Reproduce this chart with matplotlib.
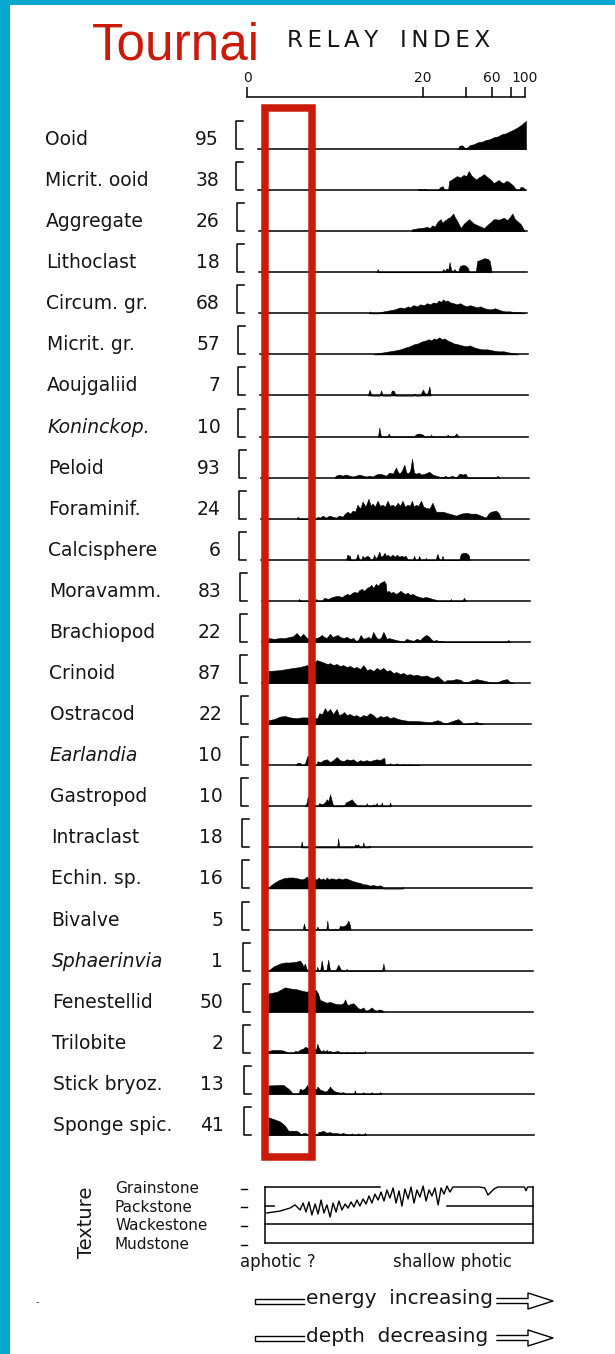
import numpy as np
import matplotlib
matplotlib.use("Agg")
import matplotlib.pyplot as plt
from matplotlib.transforms import Affine2D
from matplotlib.lines import Line2D
from matplotlib.patches import Rectangle

# ---------------- data ----------------
CATEGORIES = ["Ooid", "Micrit. ooid", "Aggregate", "Lithoclast", "Circum. gr.", "Micrit. gr.",
              "Aoujgaliid", "Koninckop.", "Peloid", "Foraminif.", "Calcisphere", "Moravamm.",
              "Brachiopod", "Crinoid", "Ostracod", "Earlandia", "Gastropod", "Intraclast",
              "Echin. sp.", "Bivalve", "Sphaerinvia", "Fenestellid", "Trilobite", "Stick bryoz.",
              "Sponge spic."]
COUNTS = [95, 38, 26, 18, 68, 57, 7, 10, 93, 24, 6, 83, 22, 87, 22, 10, 10, 18, 16, 5, 1, 50, 2, 13, 41]
ITALIC = ["Koninckop.", "Earlandia", "Sphaerinvia"]

RELAY_TICKS = [0, 20, 40, 60, 80, 100]
RELAY_LABELS = ["0", "20", "", "60", "", "100"]

# profiles: (position along sample sequence 0-100, abundance % of bracket)
OOID = [(74.5, 0), (75.2, 12), (76.2, 13), (77.2, 3), (78.2, 6), (79.0, 14), (80.5, 17), (82.0, 24),
        (83.5, 26), (85.0, 32), (86.5, 35), (88.0, 42), (89.5, 45), (91.0, 53), (92.5, 56), (94.0, 63),
        (95.5, 70), (97.0, 78), (98.5, 88), (99.5, 97), (100.0, 100), (100.0, 0)]
MICRIT_OOID = [(59.5, 0), (60.2, 5), (61.0, 2), (61.8, 5), (62.5, 3), (63.2, 0), (67.0, 0), (67.8, 10),
               (68.8, 14), (69.4, 0), (70.8, 0), (71.2, 32), (72.5, 40), (74.1, 50), (75.3, 45), (76.6, 54),
               (77.6, 50), (78.5, 68), (79.5, 52), (80.3, 45), (81.3, 38), (82.2, 45), (83.2, 50), (84.1, 57),
               (85.0, 50), (85.9, 43), (86.9, 35), (87.8, 25), (88.7, 30), (89.7, 36), (90.6, 28), (91.5, 25),
               (92.5, 33), (93.4, 30), (94.4, 22), (95.3, 14), (96.3, 0), (97.3, 0), (97.8, 11), (98.8, 10),
               (99.6, 0)]
AGGREGATE = [(57.0, 0), (57.3, 7), (59.2, 10), (61.1, 12), (62.9, 15), (63.8, 11), (64.8, 21), (65.7, 16),
             (66.7, 33), (67.9, 43), (68.5, 30), (69.2, 36), (70.4, 45), (71.6, 51), (72.6, 63), (73.3, 48),
             (74.1, 36), (75.4, 11), (76.6, 27), (78.5, 43), (80.3, 27), (82.2, 19), (84.1, 11), (85.9, 27),
             (87.8, 43), (89.7, 41), (91.5, 48), (92.8, 39), (94.7, 63), (95.5, 45), (96.5, 36), (97.8, 25),
             (99.0, 4), (99.3, 0)]
LITHOCLAST = [(43.8, 0), (44.3, 11), (44.8, 0), (68.2, 0), (68.7, 11), (69.3, 4), (70.0, 14), (70.6, 8),
              (71.1, 36), (71.7, 8), (72.3, 4), (72.9, 11), (73.5, 4), (74.2, 0), (75.0, 22), (75.8, 25),
              (76.8, 25), (77.8, 18), (78.5, 0), (80.9, 0), (81.4, 40), (82.5, 44), (84.0, 50), (85.3, 48),
              (86.1, 40), (86.8, 0)]
CIRCUM_GR = [(40.9, 0), (41.3, 7), (41.7, 0), (44.0, 0), (45.0, 4), (46.5, 7), (48.8, 11), (50.5, 14),
             (52.5, 21), (54.0, 18), (55.5, 25), (56.2, 21), (57.5, 29), (59.0, 25), (60.0, 32), (61.5, 29),
             (62.5, 36), (63.7, 32), (65.0, 39), (66.0, 36), (67.0, 46), (67.8, 40), (68.6, 50), (69.3, 43),
             (70.2, 46), (71.2, 39), (72.5, 36), (73.7, 32), (74.9, 36), (76.2, 29), (77.4, 25), (78.6, 29),
             (80.0, 25), (81.2, 21), (82.4, 25), (84.0, 18), (86.1, 14), (88.0, 18), (89.8, 11), (91.5, 7),
             (93.5, 7), (95.5, 4), (97.3, 4), (99.1, 0)]
MICRIT_GR = [(42.5, 0), (44.0, 4), (46.0, 7), (48.5, 11), (50.5, 14), (52.5, 18), (54.5, 25), (56.0, 29),
             (57.5, 36), (59.0, 39), (60.5, 46), (62.0, 50), (63.0, 54), (64.0, 50), (65.0, 57), (66.0, 54),
             (67.0, 61), (68.0, 54), (69.0, 57), (70.0, 50), (71.0, 46), (72.5, 39), (74.0, 36), (75.5, 32),
             (77.0, 29), (78.5, 32), (80.0, 25), (81.5, 21), (83.0, 18), (85.0, 18), (87.0, 14), (89.0, 11),
             (91.0, 11), (93.0, 7), (95.0, 4), (96.5, 0)]
AOUJGALIID = [(40.2, 0), (40.9, 20), (41.6, 0), (44.6, 0), (45.2, 18), (45.8, 0), (48.6, 0), (49.2, 18),
              (50.0, 16), (50.6, 0), (57.1, 0), (57.6, 7), (58.1, 0), (59.8, 0), (60.4, 14), (60.8, 21),
              (61.4, 10), (62.2, 4), (62.7, 14), (63.2, 32), (63.7, 0)]
KONINCKOP = [(43.9, 0), (44.4, 32), (45.0, 0), (47.4, 0), (47.9, 11), (48.4, 0), (57.3, 0), (58.1, 8),
             (59.2, 11), (60.6, 7), (61.3, 0), (63.3, 0), (63.7, 7), (64.1, 0), (69.4, 0), (69.9, 7),
             (70.4, 0), (72.2, 0), (73.1, 11), (74.0, 0)]
PELOID = [(27.5, 0), (28.1, 7), (29.3, 11), (30.6, 7), (31.8, 11), (33.1, 7), (34.3, 4), (35.6, 7),
          (36.8, 11), (38.1, 7), (39.5, 4), (40.5, 7), (41.8, 4), (43.1, 11), (44.4, 14), (45.6, 11),
          (46.8, 7), (48.0, 18), (49.3, 14), (50.5, 36), (51.2, 20), (51.8, 14), (52.7, 25), (53.6, 46),
          (54.3, 20), (54.9, 14), (55.8, 25), (56.5, 68), (57.2, 18), (58.0, 14), (59.0, 18), (59.9, 11),
          (61.3, 14), (62.9, 21), (64.1, 11), (65.4, 7), (66.6, 4), (67.9, 0), (68.9, 7), (69.8, 0),
          (71.4, 7), (72.9, 0), (74.2, 14), (75.4, 11), (76.5, 14), (77.2, 0), (87.9, 0), (88.4, 7),
          (89.0, 0)]
FORAMINIF = [(13.2, 0), (13.7, 7), (14.2, 0), (20.6, 0), (21.1, 7), (22.0, 4), (23.0, 11), (24.2, 4),
             (25.5, 11), (26.8, 7), (28.0, 4), (29.2, 11), (30.4, 7), (31.3, 18), (32.3, 25), (33.3, 18),
             (34.2, 29), (35.1, 25), (36.0, 50), (37.0, 36), (37.9, 61), (39.0, 43), (40.1, 71), (40.9, 46),
             (41.6, 54), (42.5, 43), (43.5, 64), (44.4, 46), (45.4, 50), (46.3, 43), (47.2, 64), (48.1, 46),
             (49.1, 50), (50.0, 43), (51.0, 57), (51.9, 46), (52.8, 64), (53.7, 43), (54.7, 50), (55.5, 46),
             (56.3, 64), (57.0, 43), (57.8, 50), (58.7, 46), (59.7, 64), (60.6, 43), (61.6, 39), (62.8, 36),
             (64.0, 57), (65.3, 25), (67.8, 25), (70.3, 18), (72.8, 11), (74.6, 18), (76.5, 21), (78.4, 18),
             (80.2, 18), (82.0, 11), (83.9, 4), (84.9, 18), (85.8, 25), (86.8, 27), (87.7, 29), (88.7, 20),
             (89.6, 0)]
CALCISPHERE = [(31.6, 0), (32.1, 18), (33.0, 14), (33.4, 0), (35.2, 0), (35.9, 21), (36.6, 0), (37.3, 0),
               (37.7, 14), (38.5, 7), (39.3, 14), (40.2, 11), (40.7, 0), (41.6, 4), (42.1, 18), (42.6, 4),
               (43.4, 14), (44.0, 29), (44.6, 11), (45.3, 14), (46.0, 25), (46.5, 14), (47.2, 18), (47.9, 11),
               (48.9, 18), (49.8, 11), (50.6, 18), (51.4, 11), (52.3, 14), (53.1, 11), (53.9, 14), (54.6, 0),
               (56.5, 0), (57.0, 14), (57.5, 0), (58.4, 0), (58.9, 14), (59.4, 0), (61.0, 0), (61.4, 7),
               (61.8, 0), (65.0, 0), (65.7, 21), (66.4, 0), (67.1, 0), (67.6, 14), (68.1, 0), (73.9, 0),
               (74.4, 21), (75.4, 25), (76.3, 25), (77.3, 18), (77.8, 0)]
MORAVAMM = [(13.6, 0), (14.0, 7), (14.4, 0), (20.0, 0), (20.4, 7), (20.8, 0), (22.5, 0), (23.3, 11),
            (24.8, 7), (26.4, 14), (28.2, 18), (30.1, 14), (31.0, 21), (31.9, 25), (32.8, 21), (33.8, 29),
            (34.7, 32), (35.6, 29), (36.5, 39), (37.4, 43), (38.3, 36), (39.2, 46), (40.1, 50), (40.9, 57),
            (41.7, 46), (42.6, 61), (43.4, 54), (44.2, 64), (45.0, 68), (45.7, 71), (46.3, 61), (46.6, 32),
            (47.3, 36), (48.2, 29), (49.1, 32), (50.0, 25), (50.9, 29), (51.8, 36), (52.7, 29), (53.6, 25),
            (54.5, 29), (55.4, 21), (56.3, 25), (57.5, 18), (58.8, 14), (60.0, 11), (61.2, 14), (62.5, 11),
            (63.7, 7), (65.0, 4), (65.5, 0), (70.2, 0), (70.6, 7), (71.0, 0), (74.8, 0), (75.5, 11),
            (76.2, 0)]
BRACHIOPOD = [(2.0, 0), (2.4, 14), (4.5, 11), (6.7, 14), (8.5, 14), (10.4, 18), (11.7, 21), (12.9, 32),
              (14.2, 18), (15.4, 29), (16.7, 14), (18.5, 11), (20.4, 14), (21.3, 18), (22.3, 25), (23.2, 18),
              (24.1, 14), (25.4, 29), (26.3, 18), (27.2, 21), (28.2, 25), (29.1, 18), (30.4, 14), (31.6, 18),
              (32.9, 11), (34.1, 14), (35.0, 4), (35.9, 7), (36.8, 25), (37.8, 11), (38.7, 14), (39.7, 18),
              (40.6, 11), (41.5, 36), (42.5, 18), (43.4, 11), (44.3, 14), (45.3, 36), (46.5, 11), (47.4, 14),
              (48.4, 11), (50.0, 7), (51.5, 4), (52.7, 0), (53.9, 11), (55.2, 7), (56.5, 4), (57.7, 11),
              (59.0, 7), (60.2, 18), (61.2, 25), (62.1, 21), (63.0, 11), (63.9, 4), (65.0, 7), (65.8, 4),
              (67.0, 4), (68.3, 0), (91.2, 0), (91.9, 7), (92.6, 0)]
CRINOID = [(2.2, 0), (2.3, 43), (6.6, 46), (9.0, 50), (11.6, 54), (14.0, 57), (16.6, 64), (18.0, 61),
           (19.0, 68), (20.3, 82), (21.5, 78), (22.4, 75), (23.4, 71), (24.3, 68), (25.3, 71), (26.5, 64),
           (27.7, 68), (29.0, 61), (30.2, 64), (31.5, 57), (32.7, 61), (34.0, 54), (35.2, 57), (36.5, 50),
           (37.7, 64), (39.0, 46), (40.2, 50), (41.5, 43), (42.7, 54), (43.9, 46), (45.1, 54), (46.4, 43),
           (47.6, 46), (48.8, 36), (50.1, 39), (51.4, 32), (52.6, 36), (53.9, 29), (55.1, 32), (56.4, 27),
           (57.6, 30), (59.4, 24), (61.3, 27), (62.6, 20), (63.8, 18), (65.4, 25), (66.9, 12), (67.8, 4),
           (68.8, 10), (70.7, 10), (72.2, 14), (73.8, 12), (75.0, 4), (76.3, 2), (78.2, 10), (80.0, 14),
           (81.9, 10), (83.7, 6), (85.6, 2), (87.5, 2), (89.4, 10), (91.2, 14), (92.4, 4), (93.7, 0)]
OSTRACOD = [(2.1, 0), (2.2, 14), (4.3, 18), (6.5, 27), (8.3, 29), (10.2, 24), (12.7, 21), (14.5, 24),
            (16.4, 24), (18.5, 20), (20.5, 22), (21.1, 39), (22.2, 36), (23.2, 57), (24.1, 43), (25.1, 54),
            (26.3, 36), (27.6, 54), (28.5, 32), (29.5, 36), (30.4, 43), (31.3, 32), (32.5, 36), (33.8, 29),
            (35.0, 32), (36.3, 25), (37.5, 32), (38.8, 29), (40.0, 39), (41.3, 32), (42.5, 21), (43.8, 29),
            (45.0, 25), (46.3, 29), (47.5, 21), (48.7, 25), (50.6, 18), (52.5, 14), (55.0, 11), (57.5, 11),
            (60.0, 9), (62.4, 7), (64.3, 11), (65.2, 14), (66.2, 11), (67.4, 4), (68.7, 4), (70.8, 11),
            (73.0, 18), (74.0, 10), (74.9, 0), (77.4, 4), (79.9, 7), (82.3, 0)]
EARLANDIA = [(12.2, 0), (12.6, 7), (13.8, 9), (14.6, 0), (15.3, 0), (16.0, 14), (16.5, 32), (17.0, 32),
             (17.4, 0), (20.0, 0), (20.3, 14), (21.5, 11), (22.6, 18), (23.8, 21), (25.0, 11), (26.2, 18),
             (27.5, 29), (28.7, 18), (30.0, 14), (31.2, 21), (32.5, 18), (33.7, 21), (35.0, 11), (36.2, 18),
             (37.4, 14), (38.6, 18), (39.9, 14), (41.1, 18), (42.4, 21), (43.6, 18), (44.9, 25), (45.3, 25),
             (45.5, 0), (46.6, 0), (47.4, 7), (48.2, 0), (49.2, 0), (49.9, 7), (50.6, 0), (51.8, 0),
             (52.4, 4), (53.0, 0), (54.3, 0), (54.9, 4), (55.5, 0), (57.4, 0), (57.9, 2), (58.4, 0)]
GASTROPOD = [(15.6, 0), (16.2, 14), (16.6, 36), (17.0, 18), (17.4, 0), (20.3, 0), (20.8, 11), (22.0, 7),
             (23.0, 14), (23.7, 25), (24.3, 18), (24.9, 43), (25.5, 21), (26.1, 0), (30.0, 0), (30.8, 14),
             (31.8, 18), (33.0, 25), (33.8, 14), (34.6, 7), (35.0, 0), (38.2, 0), (38.6, 11), (39.0, 0),
             (40.6, 0), (41.0, 7), (41.6, 4), (42.3, 11), (42.8, 0), (43.8, 0), (44.2, 14), (44.6, 0),
             (46.9, 0), (47.3, 14), (47.7, 0)]
INTRACLAST = [(13.8, 0), (14.2, 21), (14.6, 0), (27.4, 0), (27.8, 32), (28.2, 0), (33.8, 0), (34.1, 11),
              (34.7, 7), (35.3, 11), (35.7, 0), (36.8, 0), (37.2, 18), (37.6, 0), (39.0, 0), (39.4, 7),
              (39.8, 0)]
ECHIN_SP = [(1.5, 0), (1.6, 4), (3.5, 18), (5.4, 29), (7.2, 36), (9.0, 39), (10.9, 39), (12.5, 36),
            (14.1, 32), (15.2, 36), (15.9, 43), (16.6, 36), (19.8, 32), (20.3, 39), (21.2, 32), (22.1, 36),
            (22.8, 30), (23.4, 39), (24.2, 32), (25.0, 36), (25.9, 35), (26.8, 32), (27.6, 36), (28.4, 35),
            (29.3, 32), (30.1, 36), (30.9, 35), (32.1, 30), (33.3, 26), (34.6, 22), (35.8, 20), (37.0, 15),
            (38.3, 14), (39.5, 10), (40.8, 12), (42.0, 9), (43.3, 11), (44.2, 7), (44.5, 0), (51.3, 0),
            (51.7, 6), (52.1, 0)]
BIVALVE = [(14.3, 0), (14.8, 21), (15.3, 0), (19.4, 0), (19.8, 11), (20.2, 0), (23.1, 0), (23.5, 32),
           (23.9, 0), (26.2, 0), (26.4, 4), (26.6, 0), (27.8, 0), (28.2, 14), (29.0, 11), (30.1, 14),
           (30.8, 21), (31.3, 32), (32.0, 14), (32.2, 0)]
SPHAERINVIA = [(1.4, 0), (3.2, 14), (5.7, 25), (7.5, 29), (9.4, 29), (11.9, 32), (13.2, 36), (14.0, 25),
               (14.4, 14), (15.0, 25), (15.5, 10), (15.9, 0), (19.4, 0), (19.6, 14), (20.1, 0), (20.7, 0),
               (21.3, 36), (21.9, 0), (23.0, 0), (23.7, 39), (24.4, 0), (26.4, 0), (27.5, 21), (28.2, 7),
               (28.7, 0), (30.3, 0), (30.6, 7), (30.9, 0), (43.8, 0), (44.3, 25), (44.8, 0)]
FENESTELLID = [(1.2, 0), (1.2, 65), (4.4, 71), (7.5, 87), (9.3, 83), (11.8, 80), (13.7, 75), (15.6, 71),
               (16.5, 77), (19.0, 77), (19.8, 65), (20.5, 42), (21.5, 38), (23.0, 32), (24.2, 35), (25.5, 30),
               (26.5, 28), (28.0, 26), (29.2, 30), (29.9, 44), (30.5, 28), (31.1, 24), (32.0, 28), (33.0, 30),
               (34.0, 20), (34.8, 12), (35.7, 10), (36.7, 15), (37.3, 6), (37.9, 4), (38.8, 8), (39.8, 15),
               (40.8, 6), (41.7, 4), (42.6, 8), (43.5, 6), (44.4, 0)]
TRILOBITE = [(1.1, 0), (1.1, 7), (3.0, 10), (5.0, 10), (6.7, 8), (7.6, 4), (8.6, 0), (10.5, 0), (11.1, 7),
             (12.0, 4), (12.9, 11), (14.0, 14), (14.8, 21), (15.7, 18), (17.0, 10), (19.0, 14), (19.4, 32),
             (19.8, 20), (20.4, 10), (21.0, 4), (21.6, 10), (22.3, 4), (22.9, 10), (23.5, 4), (24.1, 7),
             (25.0, 2), (27.2, 7), (27.6, 0), (30.1, 0), (30.4, 4), (30.7, 0), (32.8, 0), (33.1, 4),
             (33.4, 0), (36.8, 0), (37.1, 7), (37.4, 0)]
STICK_BRYOZ = [(1.0, 0), (1.0, 30), (6.6, 32), (8.5, 18), (10.3, 0), (12.2, 0), (12.8, 18), (13.7, 14),
               (14.7, 20), (15.5, 32), (16.0, 20), (19.0, 18), (19.3, 26), (20.3, 15), (21.2, 12), (22.1, 8),
               (23.0, 12), (24.0, 26), (25.2, 12), (26.1, 8), (27.1, 6), (28.0, 4), (29.0, 6), (29.6, 0),
               (32.9, 0), (33.3, 12), (33.7, 0), (35.9, 0), (36.4, 6), (36.9, 0), (39.2, 0), (39.6, 6),
               (40.0, 0), (42.3, 0), (42.7, 6), (43.1, 0)]
SPONGE_SPIC = [(0.9, 0), (0.9, 63), (2.7, 57), (5.2, 48), (7.1, 33), (8.3, 15), (9.5, 15), (11.4, 15),
               (12.5, 8), (13.1, 2), (14.0, 7), (14.6, 7), (15.3, 4), (15.8, 0), (19.0, 0), (19.5, 10),
               (20.5, 12), (21.4, 15), (22.5, 8), (23.9, 10), (25.0, 6), (26.4, 7), (27.6, 4), (28.8, 7),
               (30.0, 2), (31.2, 0), (31.6, 0), (32.0, 6), (32.4, 0), (33.9, 0), (34.4, 6), (34.9, 0),
               (36.4, 0), (36.9, 7), (37.4, 0)]

PROFILES = [OOID, MICRIT_OOID, AGGREGATE, LITHOCLAST, CIRCUM_GR, MICRIT_GR, AOUJGALIID, KONINCKOP,
            PELOID, FORAMINIF, CALCISPHERE, MORAVAMM, BRACHIOPOD, CRINOID, OSTRACOD, EARLANDIA,
            GASTROPOD, INTRACLAST, ECHIN_SP, BIVALVE, SPHAERINVIA, FENESTELLID, TRILOBITE,
            STICK_BRYOZ, SPONGE_SPIC]

TEXTURE_CLASSES = ["Grainstone", "Packstone", "Wackestone", "Mudstone"]
TEXTURE_LEVELS = [3, 2, 1, 0]
# texture trend (position 0-100, level 0=mud .. 3=grain)
TEXTURE_TREND = [(0.7, 1.61), (5.6, 1.71), (9.3, 1.87), (11.2, 2.04), (13.1, 1.77), (14.2, 2.14), (15.3, 1.66),
                 (16.4, 2.20), (17.5, 1.50), (18.7, 2.09), (19.8, 1.55), (20.9, 2.30), (22.0, 1.61), (23.1, 2.04),
                 (24.3, 1.39), (25.4, 2.14), (26.5, 1.66), (27.6, 2.25), (28.7, 1.77), (29.9, 2.09), (31.0, 1.87),
                 (32.1, 2.20), (33.2, 1.93), (34.3, 2.30), (35.4, 1.98), (36.6, 2.36), (37.7, 2.09), (38.8, 2.52),
                 (39.9, 2.14), (41.0, 2.62), (42.2, 2.30), (43.3, 2.73), (44.4, 2.25), (45.5, 2.84), (46.6, 2.41),
                 (47.8, 2.95), (48.9, 2.14), (50.0, 2.79), (51.1, 1.98), (52.2, 2.89), (53.4, 2.36), (54.5, 3.0),
                 (55.6, 2.14), (56.7, 2.84), (57.8, 2.46), (59.0, 3.05), (60.1, 2.25), (61.2, 2.84), (62.3, 2.52),
                 (63.4, 2.95), (64.6, 2.04), (65.7, 2.95), (66.8, 2.62), (67.9, 3.05), (69.0, 2.73), (70.1, 3.0),
                 (71.6, 3.0), (80.0, 3.0), (82.0, 2.95), (83.2, 2.57), (85.5, 2.9), (86.9, 3.0), (96.8, 3.0),
                 (97.4, 2.8), (98.0, 3.0), (100.0, 3.0)]

# ---------------- layout ----------------
W, H = 615, 1354
fig = plt.figure(figsize=(W / 100, H / 100), dpi=100)
fig.patch.set_facecolor("white")
T = Affine2D().scale(1 / W, -1 / H).translate(0, 1) + fig.transFigure
FONT = "DejaVu Sans"
INK = "#161616"
RED = "#CC1A0A"
N = len(CATEGORIES)
ROW0, ROWSTEP = 149.0, 41.08
PROF_W, PROF_H = 268.0, 28.0


def pxline(xs, ys, **kw):
    fig.add_artist(Line2D(xs, ys, transform=T, color="black", **kw))


# blue frame
fig.add_artist(Rectangle((0, 0), 10, H, transform=T, color="#05A9CF", lw=0, zorder=20))
fig.add_artist(Rectangle((0, 0), W, 5, transform=T, color="#05A9CF", lw=0, zorder=20))

# titles
fig.text(92, 60, "Tournai", transform=T, color=RED, fontsize=37, family="Liberation Sans",
         ha="left", va="baseline")
fig.text(287, 47, "R\u2009E\u2009L\u2009A\u2009Y   I\u2009N\u2009D\u2009E\u2009X", transform=T,
         fontsize=16.5, family=FONT, ha="left", va="baseline", color=INK)

# relay index axis
ax_top = fig.add_axes([247 / W, 1 - 99 / H, 278 / W, 2 / H])
ax_top.set_xscale("function", functions=(lambda x: np.log1p(np.asarray(x) / 1.5),
                                         lambda y: 1.5 * np.expm1(np.asarray(y))))
ax_top.set_xlim(0, 100)
ax_top.set_ylim(0, 1)
for s in ["left", "right", "bottom"]:
    ax_top.spines[s].set_visible(False)
ax_top.spines["top"].set_linewidth(1.1)
ax_top.set_yticks([])
ax_top.set_xticks(RELAY_TICKS)
ax_top.set_xticklabels(RELAY_LABELS)
ax_top.xaxis.set_minor_locator(matplotlib.ticker.NullLocator())
ax_top.tick_params(axis="x", which="major", top=True, bottom=False, labeltop=True, labelbottom=False,
                   direction="out", length=7, width=1.1, pad=1.5, labelsize=10, labelcolor=INK)
ax_top.patch.set_visible(False)

# profile rows
for i, (name, count, prof) in enumerate(zip(CATEGORIES, COUNTS, PROFILES)):
    skew = 8.0 * i / (N - 1)
    base = ROW0 + ROWSTEP * i
    start = 258.0 + skew
    ax = fig.add_axes([start / W, 1 - base / H, PROF_W / W, PROF_H / H])
    ax.set_xlim(0, 100)
    ax.set_ylim(0, 100)
    ax.axis("off")
    xs = [p[0] for p in prof]
    hs = [p[1] for p in prof]
    ax.fill_between(xs, 0, hs, color="black", lw=0.4, clip_on=False)
    ax.axhline(0, color="black", lw=1.1, clip_on=False)
    # bracket
    bx = 236.0 + skew
    pxline([bx + 7, bx, bx, bx + 7], [base - 28, base - 28, base, base], lw=1.1)
    style = "italic" if name in ITALIC else "normal"
    fig.text(45 + skew, base - 4, name, transform=T, fontsize=13.5, family=FONT, style=style,
             ha="left", va="baseline", color=INK)
    fig.text(219 + 5.0 * i / (N - 1), base - 4, str(count), transform=T, fontsize=13.5, family=FONT,
             ha="right", va="baseline", color=INK)

# red highlight box
fig.add_artist(Rectangle((264.5, 108), 47.5, 1049, transform=T, fill=False, edgecolor=RED,
                         lw=5.4, joinstyle="miter", zorder=15))

# texture panel
ax_t = fig.add_axes([265 / W, 1 - 1243 / H, 268 / W, 56 / H])
ax_t.set_xlim(0, 100)
ax_t.set_ylim(0, 3)
ax_t.axis("off")
kw = dict(color="black", lw=1.1, clip_on=False)
ax_t.plot([0, 43], [3, 3], **kw)
ax_t.plot([0, 0], [0, 3], **kw)
ax_t.plot([100, 100], [0, 3], **kw)
ax_t.plot([0, 3.5], [2, 2], **kw)
ax_t.plot([68, 100], [2, 2], **kw)
ax_t.plot([0, 100], [1, 1], **kw)
ax_t.plot([0, 100], [0, 0], **kw)
ax_t.plot([p[0] for p in TEXTURE_TREND], [p[1] for p in TEXTURE_TREND], color="black", lw=1.0,
          clip_on=False)

for cls, lev in zip(TEXTURE_CLASSES, TEXTURE_LEVELS):
    ypix = 1243 - lev * (56 / 3) + 1.5
    fig.text(115, ypix, cls, transform=T, fontsize=11, family=FONT, ha="left", va="center", color=INK)
    pxline([241, 247], [ypix, ypix], lw=1.0)

fig.text(86, 1222, "Texture", transform=T, fontsize=14, family=FONT, rotation=90,
         ha="center", va="center", color=INK)
fig.text(240, 1262, "aphotic ?", transform=T, fontsize=12, family=FONT, ha="left", va="center", color=INK)
fig.text(393, 1262, "shallow photic", transform=T, fontsize=12, family=FONT, ha="left", va="center",
         color=INK)

for ytxt, label in [(1299, "energy  increasing"), (1336, "depth  decreasing")]:
    fig.text(306, ytxt, label, transform=T, fontsize=14.5, family=FONT, ha="left", va="center", color=INK)
    ya = ytxt + 2
    pxline([304, 255, 255, 304], [ya - 2.5, ya - 2.5, ya + 2.5, ya + 2.5], lw=1.0)
    pxline([497, 528, 528, 553, 528, 528, 497],
           [ya - 2.5, ya - 2.5, ya - 8, ya, ya + 8, ya + 2.5, ya + 2.5], lw=1.0)

fig.text(37, 1302, "-", transform=T, fontsize=7, family=FONT, ha="center", va="center", color="#444444")

fig.savefig("out.png", dpi=100, facecolor="white")
